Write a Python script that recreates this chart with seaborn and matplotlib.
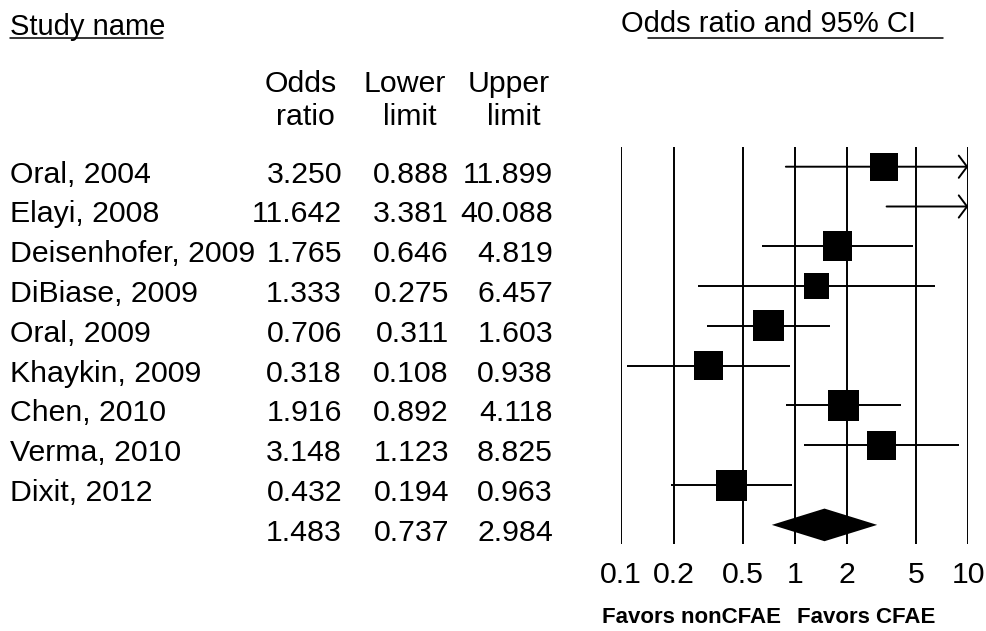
import numpy as np
import pandas as pd
import matplotlib
matplotlib.use("Agg")
import matplotlib.pyplot as plt
from matplotlib.lines import Line2D
from matplotlib.ticker import NullLocator
from matplotlib.transforms import blended_transform_factory
import seaborn as sns

# ---- data ---------------------------------------------------------------
studies = ["Oral, 2004", "Elayi, 2008", "Deisenhofer, 2009", "DiBiase, 2009",
           "Oral, 2009", "Khaykin, 2009", "Chen, 2010", "Verma, 2010", "Dixit, 2012"]
odds_ratio = [3.250, 11.642, 1.765, 1.333, 0.706, 0.318, 1.916, 3.148, 0.432]
lower_limit = [0.888, 3.381, 0.646, 0.275, 0.311, 0.108, 0.892, 1.123, 0.194]
upper_limit = [11.899, 40.088, 4.819, 6.457, 1.603, 0.938, 4.118, 8.825, 0.963]
rel_weight = [10.0, 10.3, 11.4, 8.3, 12.4, 11.1, 12.6, 11.1, 12.4]   # percent

pooled_or = 1.483
pooled_lower = 0.737
pooled_upper = 2.984

axis_ticks = [0.1, 0.2, 0.5, 1, 2, 5, 10]
tick_labels = ["0.1", "0.2", "0.5", "1", "2", "5", "10"]

# ---- styling ------------------------------------------------------------
sns.set_style("white")
plt.rcParams["font.family"] = ["Liberation Sans", "DejaVu Sans"]
plt.rcParams["text.color"] = "black"
plt.rcParams["xtick.color"] = "black"
plt.rcParams["xtick.labelcolor"] = "black"
FS = 21.8

W, H = 986, 631
fig = plt.figure(figsize=(W / 100, H / 100), dpi=100)


def fx(px):
    return px / W


def fy(py):
    return 1 - py / H


xmin, xmax = axis_ticks[0], axis_ticks[-1]
ax = fig.add_axes([fx(621.3), fy(544), fx(968.3) - fx(621.3), fy(147) - fy(544)])
ax.set_xscale("log")

df = pd.DataFrame({
    "study": studies,
    "odds_ratio": odds_ratio,
    "lower": lower_limit,
    "upper": upper_limit,
    "weight": rel_weight,
})
df["row"] = np.arange(len(df))
pooled_row = len(df)

# reference lines at each axis value
for t in axis_ticks:
    ax.axvline(t, color="black", lw=1.4, zorder=1)

# confidence intervals (clipped to the axis; arrow where it runs past the edge)
for _, r in df.iterrows():
    lo = max(r["lower"], xmin)
    if r["upper"] > xmax:
        ax.annotate("", xy=(xmax, r["row"]), xytext=(lo, r["row"]),
                    xycoords="data", textcoords="data",
                    arrowprops=dict(arrowstyle="->,head_length=0.6,head_width=0.8",
                                    mutation_scale=10, lw=1.4, color="black",
                                    shrinkA=0, shrinkB=0),
                    zorder=2)
    else:
        ax.plot([lo, r["upper"]], [r["row"], r["row"]], color="black", lw=1.4,
                solid_capstyle="butt", zorder=2)

# weighted study boxes (area proportional to weight)
shown = df[(df["odds_ratio"] >= xmin) & (df["odds_ratio"] <= xmax)]
box_side_pt = np.sqrt(shown["weight"].to_numpy()) * 8.8 * 0.72
sns.scatterplot(data=shown, x="odds_ratio", y="row", marker="s",
                s=box_side_pt ** 2, color="black", linewidth=0,
                legend=False, ax=ax, zorder=3)

# pooled estimate diamond
half_h = 0.41
ax.fill([pooled_lower, pooled_or, pooled_upper, pooled_or],
        [pooled_row, pooled_row - half_h, pooled_row, pooled_row + half_h],
        color="black", lw=0, zorder=3)

ax.set_xlim(xmin, xmax)
ax.set_ylim(9.48, -0.495)
ax.set_xticks(axis_ticks)
ax.set_xticklabels(tick_labels)
ax.xaxis.set_minor_locator(NullLocator())
ax.tick_params(axis="x", length=0, pad=12, labelsize=FS, labelcolor="black")
ax.set_yticks([])
ax.set_xlabel("")
ax.set_ylabel("")
for s in ax.spines.values():
    s.set_visible(False)

# ---- table on the left ---------------------------------------------------
trans = blended_transform_factory(fig.transFigure, ax.transData)
base = 0.40
for _, r in df.iterrows():
    y = r["row"] + base
    ax.text(fx(10), y, r["study"], transform=trans, ha="left", va="baseline",
            fontsize=FS, clip_on=False)
    ax.text(fx(342), y, f"{r['odds_ratio']:.3f}", transform=trans, ha="right",
            va="baseline", fontsize=FS, clip_on=False)
    ax.text(fx(449), y, f"{r['lower']:.3f}", transform=trans, ha="right",
            va="baseline", fontsize=FS, clip_on=False)
    ax.text(fx(553), y, f"{r['upper']:.3f}", transform=trans, ha="right",
            va="baseline", fontsize=FS, clip_on=False)

y = pooled_row + base
for xpx, v in [(342, pooled_or), (449, pooled_lower), (553, pooled_upper)]:
    ax.text(fx(xpx), y, f"{v:.3f}", transform=trans, ha="right", va="baseline",
            fontsize=FS, clip_on=False)

# column headers
for xpx, top, bottom in [(301, "Odds", "ratio"), (405, "Lower", "limit"),
                         (509, "Upper", "limit")]:
    fig.text(fx(xpx), fy(91.5), top, ha="center", va="baseline", fontsize=FS)
    fig.text(fx(xpx + 4.5), fy(125), bottom, ha="center", va="baseline", fontsize=FS)

# section titles with underlines
fig.text(fx(10), fy(35), "Study name", ha="left", va="baseline", fontsize=21)
fig.add_artist(Line2D([fx(10), fx(163)], [fy(37.7), fy(37.7)], color="black", lw=1.1))
fig.text(fx(621), fy(32), "Odds ratio and 95% CI", ha="left", va="baseline", fontsize=21)
fig.add_artist(Line2D([fx(648), fx(943)], [fy(37.5), fy(37.5)], color="black", lw=1.1))

# direction labels under the axis
fig.text(fx(691.7), fy(623.3), "Favors nonCFAE", ha="center", va="baseline",
         fontsize=16, fontweight="bold")
fig.text(fx(865.8), fy(623.3), "Favors CFAE", ha="center", va="baseline",
         fontsize=16, fontweight="bold")

fig.savefig("out.png", dpi=100, facecolor="white")
